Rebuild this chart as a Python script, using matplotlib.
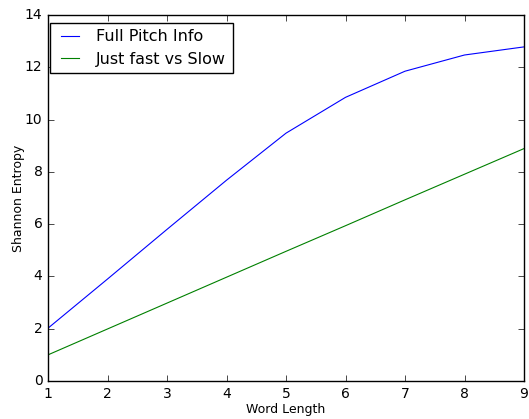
import matplotlib
matplotlib.use("Agg")
import matplotlib.pyplot as plt

plt.style.use("classic")

# data
word_length = [1, 2, 3, 4, 5, 6, 7, 8, 9]
full_pitch = [2.02, 3.9, 5.8, 7.68, 9.48, 10.85, 11.85, 12.47, 12.78]
fast_slow = [1.0, 1.99, 2.98, 3.97, 4.96, 5.94, 6.93, 7.91, 8.89]

fig = plt.figure(figsize=(5.29, 4.19), dpi=100)
ax = fig.add_axes([48/529, 38/419, 476/529, 366/419])
ax.plot(word_length, full_pitch, color="b", lw=0.8, label="Full Pitch Info")
ax.plot(word_length, fast_slow, color="g", lw=0.8, label="Just fast vs Slow")
ax.set_xlim(1, 9)
ax.set_ylim(0, 14)
ax.tick_params(labelsize=10)
ax.set_xlabel("Word Length", fontsize=9, labelpad=2)
ax.set_ylabel("Shannon Entropy", fontsize=9, labelpad=0)
ax.legend(loc="upper left", bbox_to_anchor=(2/476, 1 - 8/366), borderaxespad=0,
          fontsize=11.5, handlelength=1.7, borderpad=0.4, labelspacing=0.45)
fig.savefig("out.png", dpi=100)
